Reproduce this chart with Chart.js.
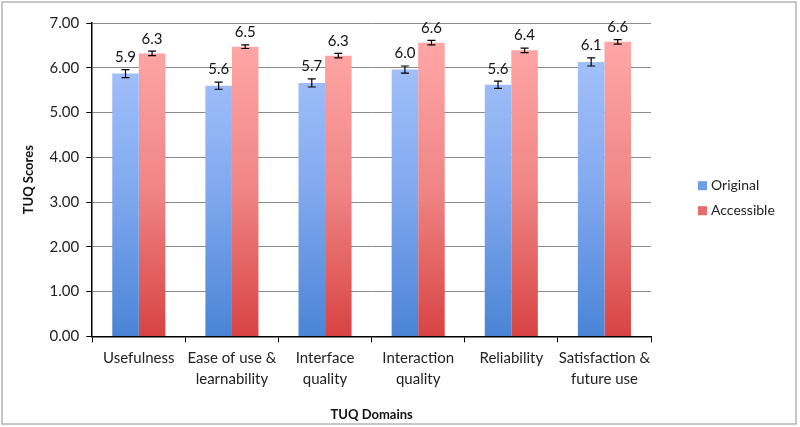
<!DOCTYPE html>
<html>
<head>
<meta charset="utf-8">
<script src="https://cdn.jsdelivr.net/npm/chart.js@4"></script>
<style>
  html, body { margin: 0; padding: 0; background: #fff; }
</style>
</head>
<body>
<canvas id="tuqChart" width="800" height="427"></canvas>
<script>
const domains = [
    ["Usefulness"],
    ["Ease of use &", "learnability"],
    ["Interface", "quality"],
    ["Interaction", "quality"],
    ["Reliability"],
    ["Satisfaction &", "future use"],
];
const originalScores = [5.87, 5.6, 5.66, 5.96, 5.62, 6.13];
const accessibleScores = [6.32, 6.47, 6.27, 6.56, 6.39, 6.58];
const originalErr = [0.09, 0.08, 0.09, 0.08, 0.08, 0.09];
const accessibleErr = [0.05, 0.04, 0.05, 0.05, 0.05, 0.05];
const seriesNames = ["Original", "Accessible"];
const yTicks = [0, 1, 2, 3, 4, 5, 6, 7];

const FONT = "Lato";
const legendColors = ["#6d9de8", "#e66b6b"];

// vertical gradient over the plot area, like the excel fill
function barGradient(stops) {
    return (context) => {
        const area = context.chart.chartArea;
        if (!area) return stops[stops.length - 1];
        const g = context.chart.ctx.createLinearGradient(0, area.top + 20, 0, area.bottom);
        stops.forEach((c, i) => g.addColorStop(i / (stops.length - 1), c));
        return g;
    };
}

// frame round the whole chart
const frame = {
    id: "frame",
    beforeDraw(chart) {
        const ctx = chart.ctx;
        ctx.save();
        ctx.fillStyle = "#fff";
        ctx.fillRect(0, 0, chart.width, chart.height);
        ctx.strokeStyle = "#b4b4b4";
        ctx.lineWidth = 1.5;
        ctx.strokeRect(2, 2, 794, 422);
        ctx.restore();
    },
};

// error bars + value labels
const errorBars = {
    id: "errorBars",
    afterDatasetsDraw(chart) {
        const ctx = chart.ctx;
        const y = chart.scales.y;
        [originalErr, accessibleErr].forEach((errs, di) => {
            const meta = chart.getDatasetMeta(di);
            const values = chart.data.datasets[di].data;
            meta.data.forEach((bar, i) => {
                const top = y.getPixelForValue(values[i] + errs[i]);
                const bot = y.getPixelForValue(values[i] - errs[i]);
                ctx.save();
                ctx.strokeStyle = "#000";
                ctx.lineWidth = 1.2;
                ctx.beginPath();
                ctx.moveTo(bar.x, top);
                ctx.lineTo(bar.x, bot);
                ctx.moveTo(bar.x - 4, top);
                ctx.lineTo(bar.x + 4, top);
                ctx.moveTo(bar.x - 4, bot);
                ctx.lineTo(bar.x + 4, bot);
                ctx.stroke();
                ctx.fillStyle = "#111";
                ctx.font = "15px " + FONT;
                ctx.textAlign = "center";
                ctx.textBaseline = "bottom";
                ctx.fillText(values[i].toFixed(1), bar.x, top - 5);
                ctx.restore();
            });
        });
    },
};

// legend to the right of the plot
const sideLegend = {
    id: "sideLegend",
    afterDraw(chart) {
        const ctx = chart.ctx;
        const x = chart.chartArea.right + 47;
        const midY = (chart.chartArea.top + chart.chartArea.bottom) / 2;
        ctx.save();
        ctx.font = "14px " + FONT;
        ctx.textBaseline = "middle";
        ctx.textAlign = "left";
        seriesNames.forEach((name, i) => {
            const cy = midY + 6 + i * 25;
            ctx.fillStyle = legendColors[i];
            ctx.fillRect(x, cy - 4.5, 9, 9);
            ctx.fillStyle = "#222";
            ctx.fillText(name, x + 13, cy);
        });
        ctx.restore();
    },
};

const ctx = document.getElementById("tuqChart").getContext("2d");
const tuqChart = new Chart(ctx, {
    type: "bar",
    data: {
        labels: domains,
        datasets: [
            {
                label: seriesNames[0],
                data: originalScores,
                backgroundColor: barGradient(["#a6c4fb", "#82a9ef", "#4a84d6"]),
                categoryPercentage: 0.57,
                barPercentage: 1.0,
            },
            {
                label: seriesNames[1],
                data: accessibleScores,
                backgroundColor: barGradient(["#ffa6a6", "#f08585", "#d84343"]),
                categoryPercentage: 0.57,
                barPercentage: 1.0,
            },
        ],
    },
    options: {
        responsive: false,
        animation: false,
        layout: {
            padding: { top: 23, left: 21, right: 149, bottom: 4 },
        },
        plugins: {
            tooltip: { enabled: false },
            legend: { display: false },
        },
        scales: {
            x: {
                grid: {
                    offset: true,
                    drawOnChartArea: false,
                    drawTicks: true,
                    tickLength: 6,
                    tickColor: "#000",
                },
                border: { color: "#000", width: 1.5 },
                ticks: {
                    color: "#222",
                    font: { family: FONT, size: 15, lineHeight: 1.4 },
                    maxRotation: 0,
                    autoSkip: false,
                    padding: 5,
                },
                title: {
                    display: true,
                    text: "TUQ Domains",
                    color: "#111",
                    font: { family: FONT, size: 13, weight: "bold" },
                    padding: { top: 13, bottom: 0 },
                },
            },
            y: {
                min: 0,
                max: 7,
                afterBuildTicks: (axis) => {
                    axis.ticks = yTicks.map((v) => ({ value: v }));
                },
                grid: {
                    color: "#8c8c8c",
                    lineWidth: 1,
                    drawTicks: true,
                    tickLength: 6,
                    tickColor: "#000",
                },
                border: { color: "#000", width: 1.5 },
                ticks: {
                    color: "#222",
                    font: { family: FONT, size: 15 },
                    padding: 7,
                    callback: (v) => Number(v).toFixed(2),
                },
                title: {
                    display: true,
                    text: "TUQ Scores",
                    color: "#111",
                    font: { family: FONT, size: 13, weight: "bold" },
                    padding: { top: 0, bottom: 6 },
                },
            },
        },
    },
    plugins: [frame, errorBars, sideLegend],
});
</script>
</body>
</html>
